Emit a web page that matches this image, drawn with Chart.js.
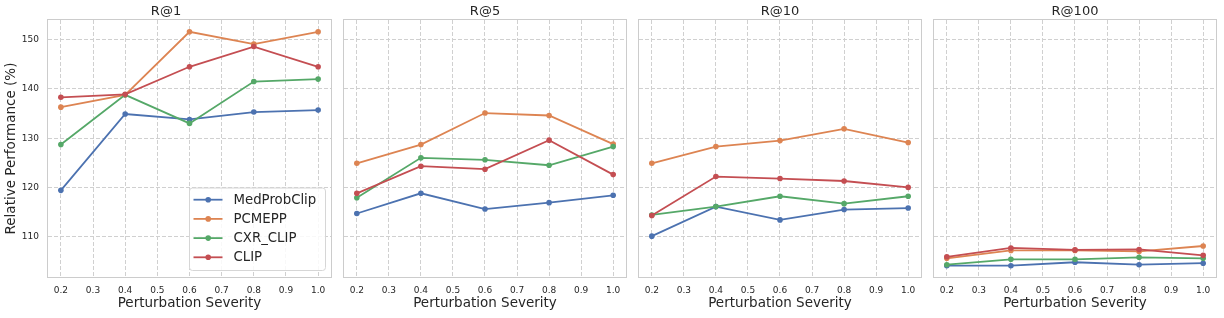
<!DOCTYPE html>
<html><head><meta charset="utf-8">
<script src="https://cdn.jsdelivr.net/npm/chart.js@4.4.1/dist/chart.umd.min.js"></script>
<style>
html,body{margin:0;padding:0;background:#fff;}
#wrap{position:relative;width:1224px;height:318px;overflow:hidden;background:#fff;}
#wrap canvas{position:absolute;top:0;}
</style></head><body>
<div id="wrap">
<canvas id="c0"></canvas><canvas id="c1"></canvas><canvas id="c2"></canvas><canvas id="c3"></canvas>
</div>
<script>
// ---- data ----
const severity = [0.2, 0.4, 0.6, 0.8, 1.0];
const xTicks = [0.2, 0.3, 0.4, 0.5, 0.6, 0.7, 0.8, 0.9, 1.0];
const xTickLabels = ['0.2','0.3','0.4','0.5','0.6','0.7','0.8','0.9','1.0'];
const yTicks = [110, 120, 130, 140, 150];
const yTickLabels = ['110','120','130','140','150'];
const panelTitles = ['R@1', 'R@5', 'R@10', 'R@100'];
const seriesNames = ['MedProbClip', 'PCMEPP', 'CXR_CLIP', 'CLIP'];
const seriesColors = ['#4c72b0', '#dd8452', '#55a868', '#c44e52'];

const r1MedProbClip = [119.4, 134.9, 133.8, 135.3, 135.7];
const r1PCMEPP      = [136.3, 138.8, 151.6, 149.1, 151.6];
const r1CXRCLIP     = [128.7, 138.8, 133.0, 141.5, 142.0];
const r1CLIP        = [138.3, 138.9, 144.5, 148.6, 144.5];

const r5MedProbClip = [114.7, 118.8, 115.6, 116.9, 118.4];
const r5PCMEPP      = [124.9, 128.7, 135.1, 134.6, 128.8];
const r5CXRCLIP     = [117.9, 126.0, 125.6, 124.5, 128.3];
const r5CLIP        = [118.8, 124.3, 123.7, 129.6, 122.6];

const r10MedProbClip = [110.1, 116.1, 113.4, 115.5, 115.8];
const r10PCMEPP      = [124.9, 128.3, 129.5, 131.9, 129.1];
const r10CXRCLIP     = [114.4, 116.1, 118.2, 116.7, 118.2];
const r10CLIP        = [114.3, 122.2, 121.8, 121.3, 120.0];

const r100MedProbClip = [104.1, 104.1, 104.8, 104.3, 104.6];
const r100PCMEPP      = [105.6, 107.2, 107.2, 107.0, 108.1];
const r100CXRCLIP     = [104.3, 105.4, 105.4, 105.8, 105.6];
const r100CLIP        = [105.9, 107.7, 107.3, 107.4, 106.2];

const panelValues = [
  [r1MedProbClip, r1PCMEPP, r1CXRCLIP, r1CLIP],
  [r5MedProbClip, r5PCMEPP, r5CXRCLIP, r5CLIP],
  [r10MedProbClip, r10PCMEPP, r10CXRCLIP, r10CLIP],
  [r100MedProbClip, r100PCMEPP, r100CXRCLIP, r100CLIP]
];

// ---- layout / style ----
const PLOT_W = 284;
const plotLefts = [48, 343, 638, 933];
const TEXT = '#262626';
const GRID = '#d0d0d0';
const FRAME = '#cccccc';
Chart.defaults.font.family = "'DejaVu Sans', sans-serif";
Chart.defaults.color = TEXT;

const framePlugin = {
  id: 'frame',
  beforeDatasetsDraw(chart) {
    const a = chart.chartArea, ctx = chart.ctx;
    ctx.save();
    ctx.strokeStyle = FRAME;
    ctx.lineWidth = 1;
    ctx.strokeRect(a.left - 0.5, a.top - 0.5, a.right - a.left + 1, a.bottom - a.top + 1);
    ctx.restore();
  }
};

const legendPlugin = {
  id: 'inlegend',
  afterDatasetsDraw(chart) {
    const a = chart.chartArea, ctx = chart.ctx;
    const w = 136, h = 82.5;
    const x0 = a.right - 5.5 - w, y0 = a.bottom - 6.5 - h;
    ctx.save();
    ctx.beginPath();
    if (ctx.roundRect) ctx.roundRect(x0, y0, w, h, 3); else ctx.rect(x0, y0, w, h);
    ctx.fillStyle = 'rgba(255,255,255,0.85)';
    ctx.fill();
    ctx.strokeStyle = '#d6d6d6';
    ctx.lineWidth = 1;
    ctx.stroke();
    ctx.font = "13.3px 'DejaVu Sans', sans-serif";
    ctx.textBaseline = 'middle';
    ctx.textAlign = 'left';
    chart.data.datasets.forEach((ds, i) => {
      const y = y0 + 11.7 + i * 19.2;
      ctx.strokeStyle = ds.borderColor;
      ctx.lineWidth = 1.8;
      ctx.beginPath();
      ctx.moveTo(x0 + 4, y);
      ctx.lineTo(x0 + 33, y);
      ctx.stroke();
      ctx.fillStyle = ds.borderColor;
      ctx.beginPath();
      ctx.arc(x0 + 18.7, y, 2.8, 0, Math.PI * 2);
      ctx.fill();
      ctx.fillStyle = TEXT;
      ctx.fillText(ds.label, x0 + 44, y + 0.5);
    });
    ctx.restore();
  }
};

panelTitles.forEach((title, i) => {
  const isFirst = i === 0;
  const padL = isFirst ? 0 : 3;
  const yW = isFirst ? 48 : 0;
  const cv = document.getElementById('c' + i);
  cv.width = padL + yW + PLOT_W + 3;
  cv.height = 318;
  cv.style.left = (plotLefts[i] - yW - padL) + 'px';
  cv.style.width = cv.width + 'px';
  cv.style.height = '318px';

  const datasets = seriesNames.map((name, s) => ({
    label: name,
    data: severity.map((x, k) => ({ x: x, y: panelValues[i][s][k] })),
    borderColor: seriesColors[s],
    backgroundColor: seriesColors[s],
    pointBackgroundColor: seriesColors[s],
    pointBorderWidth: 0,
    pointRadius: 2.8,
    borderWidth: 1.8,
    tension: 0,
    order: seriesNames.length - 1 - s
  }));

  new Chart(cv, {
    type: 'line',
    data: { datasets },
    plugins: isFirst ? [framePlugin, legendPlugin] : [framePlugin],
    options: {
      responsive: false,
      animation: false,
      devicePixelRatio: 1,
      layout: { padding: { left: padL, right: 3, top: 0, bottom: 0 } },
      plugins: {
        legend: { display: false },
        tooltip: { enabled: false },
        title: {
          display: true, text: title, color: TEXT,
          font: { size: 13, weight: 'normal' },
          padding: { top: 4, bottom: 0.4 }
        }
      },
      scales: {
        x: {
          type: 'linear', min: 0.16, max: 1.04,
          afterBuildTicks: s => { s.ticks = xTicks.map(v => ({ value: v })); },
          afterFit: s => { s.height = 41; },
          grid: { color: GRID, lineWidth: 1, drawTicks: false },
          border: { display: false, dash: [4, 2] },
          ticks: {
            padding: 8, autoSkip: false, maxRotation: 0, minRotation: 0,
            font: { size: 9 }, color: TEXT,
            callback: (v, idx) => xTickLabels[idx]
          },
          title: {
            display: true, text: 'Perturbation Severity', color: TEXT,
            font: { size: 13.5 }, padding: { top: 0, bottom: 6.6 }
          }
        },
        y: {
          type: 'linear', min: 101.8, max: 154.0,
          afterBuildTicks: s => { s.ticks = yTicks.map(v => ({ value: v })); },
          afterFit: s => { s.width = yW; },
          grid: { color: GRID, lineWidth: 1, drawTicks: false },
          border: { display: false, dash: [4, 2] },
          ticks: {
            display: isFirst, padding: 9, font: { size: 9 }, color: TEXT,
            callback: (v, idx) => yTickLabels[idx]
          },
          title: {
            display: isFirst, text: 'Relative Performance (%)', color: TEXT,
            font: { size: 13.5 }, padding: { top: 3.6, bottom: 0 }
          }
        }
      }
    }
  });
});
</script>
</body></html>
